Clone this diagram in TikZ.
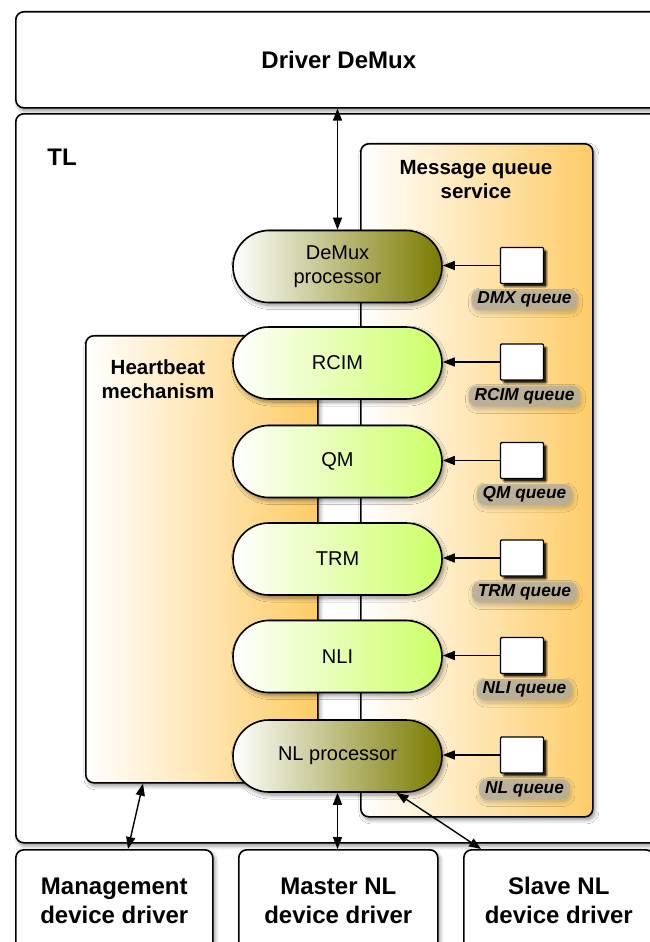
\documentclass[tikz,border=0pt]{standalone}
\usepackage{fontspec}
\setmainfont{Liberation Sans}
\usetikzlibrary{shapes.misc,shadows.blur,arrows.meta}

\definecolor{warm}{RGB}{254,204,102}
\definecolor{olivedark}{RGB}{122,122,0}
\definecolor{lime}{RGB}{204,255,102}
\definecolor{tagbg}{RGB}{184,176,156}

\begin{document}
\begin{tikzpicture}[x=1pt,y=-1pt,line width=1.6pt,
  softshadow/.style={blur shadow={shadow xshift=2pt,shadow yshift=-3pt,shadow blur steps=6,shadow blur radius=4pt,shadow opacity=45}},
  panel/.style={draw=black,fill=white,rounded corners=8pt,softshadow,anchor=north west,inner sep=0pt},
  service/.style={draw=black,left color=white,right color=warm,rounded corners=8pt,softshadow,anchor=north west,inner sep=0pt},
  proc/.style={rounded rectangle,draw=black,minimum width=209pt,minimum height=72pt,inner sep=0pt,
    left color=white,right color=#1,softshadow,align=center,font=\fontsize{20}{24}\selectfont},
  queuebox/.style={draw=black,fill=white,line width=1.4pt,minimum width=43pt,minimum height=36pt,inner sep=0pt,rounded corners=1pt,
    blur shadow={shadow xshift=3pt,shadow yshift=-3pt,shadow blur steps=2,shadow blur radius=1pt,shadow opacity=85}},
  qtag/.style={fill=tagbg,fill opacity=0.85,text opacity=1,rounded corners=8pt,minimum height=21pt,inner xsep=6pt,inner ysep=0pt,
    font=\bfseries\itshape\fontsize{17.3}{18}\selectfont,
    blur shadow={shadow xshift=1pt,shadow yshift=-3pt,shadow blur steps=6,shadow blur radius=4pt,shadow opacity=25}},
  title/.style={font=\bfseries\fontsize{24}{29}\selectfont,align=center},
  subtitle/.style={font=\bfseries\fontsize{20.5}{24}\selectfont,align=center},
  link/.style={line width=1.4pt,{Triangle[length=12pt,width=9pt]}-{Triangle[length=12pt,width=9pt]}},
  feed/.style={line width=1.4pt,-{Triangle[length=12pt,width=9pt]}}]

\useasboundingbox (0,0) rectangle (649,942);

% outer layers
\node[panel,minimum width=680pt,minimum height=729pt] (tl) at (15,113) {};
\node[panel,minimum width=646pt,minimum height=96pt,title] (drv) at (15,11) {Driver DeMux};
\node[title] (tllabel) at (62,157) {TL};

% heartbeat and message queue service panels
\node[service,minimum width=232pt,minimum height=447pt] (hb) at (85,335) {};
\node[subtitle] (hbtitle) at (158,379) {Heartbeat\\mechanism};
\node[service,minimum width=232pt,minimum height=673pt] (mqs) at (360,143) {};
\node[subtitle] (mqstitle) at (476,180) {Message queue\\service};

% processing stages
\node[proc=olivedark] (demux) at (337.5,266.5) {DeMux\\processor};
\node[proc=lime] (rcim) at (337.5,363) {RCIM};
\node[proc=lime] (qm) at (337.5,461.5) {QM};
\node[proc=lime] (trm) at (337.5,559) {TRM};
\node[proc=lime] (nli) at (337.5,656.5) {NLI};
\node[proc=olivedark] (nlp) at (337.5,756) {NL processor};

% queues
\foreach \s/\lab in {demux/DMX,rcim/RCIM,qm/QM,trm/TRM,nli/NLI,nlp/NL}{
  \node[queuebox] (q\s) at ([xshift=184.5pt,yshift=1pt]\s.center) {};
  \node[qtag] (t\s) at ([xshift=187pt,yshift=-33pt]\s.center) {\lab\ queue};
  \draw[feed] (q\s.west) -- (q\s.west -| \s.east);
}

% device drivers
\node[panel,minimum width=197pt,minimum height=102pt,title] (mgmt) at (15,849) {Management\\device driver};
\node[panel,minimum width=199pt,minimum height=102pt,title] (master) at (238,849) {Master NL\\device driver};
\node[panel,minimum width=190pt,minimum height=102pt,title] (slave) at (463,849) {Slave NL\\device driver};

% connections
\draw[link] (drv.south -| demux.north) -- (demux.north);
\draw[link] ([xshift=58pt]hb.south west) -- ([xshift=113pt]mgmt.north west);
\draw[link] (nlp.south) -- (nlp.south |- master.north);
\draw[link] ([xshift=59pt]nlp.south) -- ([xshift=18pt]slave.north west);
\end{tikzpicture}
\end{document}
